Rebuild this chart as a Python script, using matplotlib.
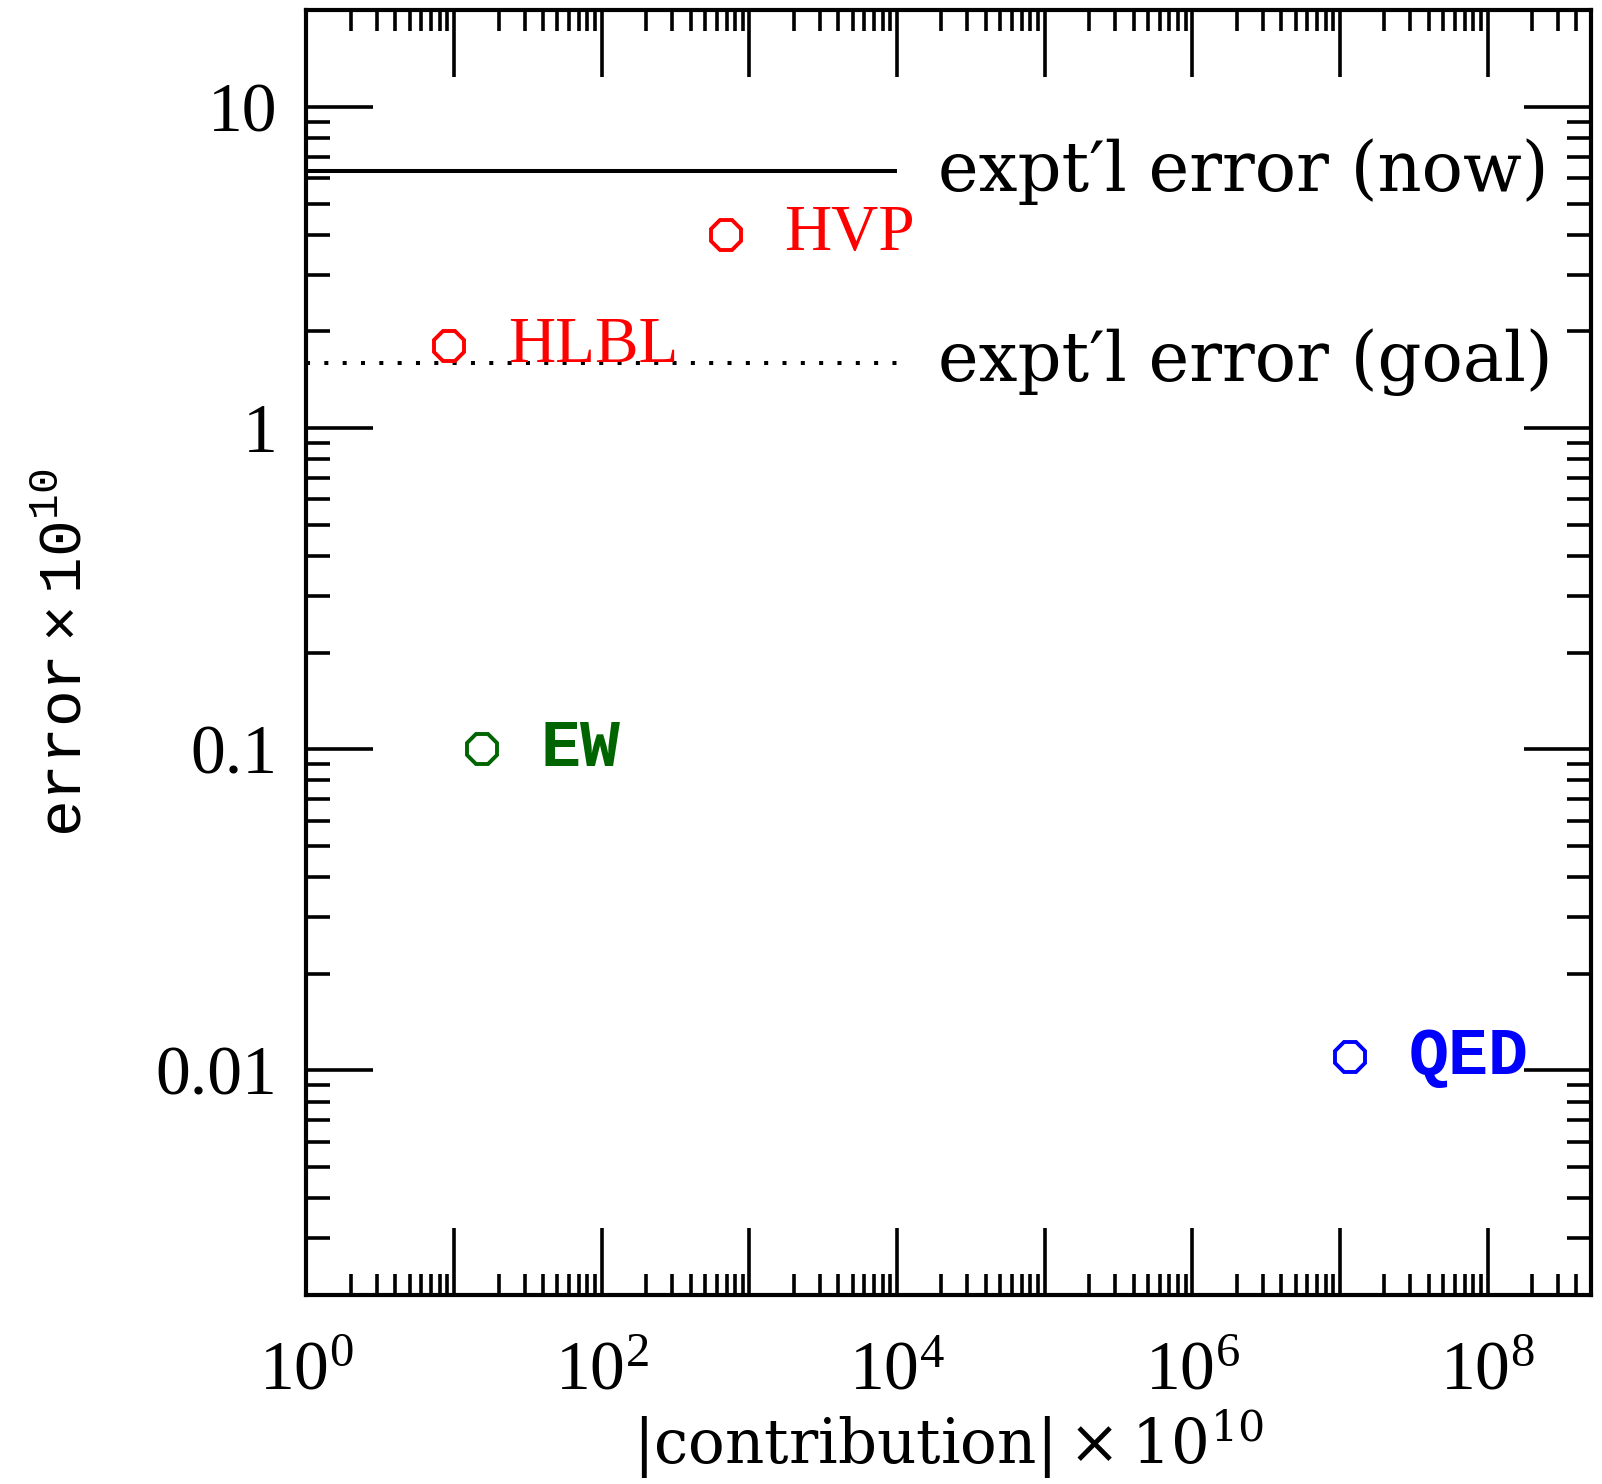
import numpy as np
import matplotlib
matplotlib.use("Agg")
import matplotlib.pyplot as plt
from matplotlib.ticker import LogLocator, FuncFormatter, NullFormatter

plt.rcParams['mathtext.fontset'] = 'custom'
plt.rcParams['mathtext.rm'] = 'DejaVu Serif'
plt.rcParams['mathtext.sf'] = 'Liberation Serif'
plt.rcParams['mathtext.tt'] = 'Liberation Mono'

# data
labels = ['HVP', 'HLBL', 'EW', 'QED']
contribution = [690, 9.3, 15.4, 1.17e7]
error = [4.0, 1.8, 0.1, 0.011]
colors = ['#ff0000', '#ff0000', '#006400', '#0000ff']
label_font = [('Liberation Serif', 'normal', 47), ('Liberation Serif', 'normal', 47),
              ('Liberation Mono', 'bold', 48), ('Liberation Mono', 'bold', 48)]

err_now = 6.3
err_goal = 1.6
line_x = [1, 1e4]
x_lim = [1, 5e8]
y_lim = [0.002, 20]
y_ticks = [0.01, 0.1, 1, 10]
y_ticklabels = ['0.01', '0.1', '1', '10']

fig = plt.figure(figsize=(16.02, 14.84), dpi=100)
ax = fig.add_axes([0.1913, 0.1274, 0.8017, 0.8657])
ax.set_xscale('log')
ax.set_yscale('log')
ax.set_xlim(x_lim)
ax.set_ylim(y_lim)

ax.plot(line_x, [err_now, err_now], color='black', lw=2.9, solid_capstyle='butt')
ax.plot(line_x, [err_goal, err_goal], color='black', lw=2.9, linestyle=(0, (1, 3.55)))

ax.text(1.9e4, err_now, "expt\u2032l error (now)", fontsize=49.5, family='DejaVu Serif', va='center', ha='left')
ax.text(1.9e4, err_goal, "expt\u2032l error (goal)", fontsize=49.5, family='DejaVu Serif', va='center', ha='left')

for lab, x, y, c, (fam, wt, fs) in zip(labels, contribution, error, colors, label_font):
    ax.plot([x], [y], marker='8', ms=23, mfc='none', mec=c, mew=2.8, ls='none')
    ax.annotate(lab, (x, y), xytext=(42, 0), textcoords='offset points', color=c,
                fontsize=fs, family=fam, weight=wt, va='center', ha='left')

# ticks
ax.xaxis.set_major_locator(LogLocator(base=10, numticks=20))
ax.xaxis.set_minor_locator(LogLocator(base=10, subs=np.arange(2, 10), numticks=20))
ax.xaxis.set_major_formatter(FuncFormatter(
    lambda v, p: r'$\mathsf{10^{%d}}$' % round(np.log10(v)) if round(np.log10(v)) % 2 == 0 else ''))
ax.xaxis.set_minor_formatter(NullFormatter())
ax.set_yticks(y_ticks)
ax.set_yticklabels(y_ticklabels)
ax.yaxis.set_minor_locator(LogLocator(base=10, subs=np.arange(2, 10), numticks=20))
ax.yaxis.set_minor_formatter(NullFormatter())

ax.tick_params(which='both', direction='in', top=True, right=True, width=2.6, color='black')
ax.tick_params(which='major', length=48)
ax.tick_params(axis='x', which='minor', length=15)
ax.tick_params(axis='y', which='minor', length=17)
ax.tick_params(axis='x', which='major', pad=30, labelsize=50)
ax.tick_params(axis='y', which='major', pad=21, labelsize=50)
for t in ax.get_yticklabels():
    t.set_family('Liberation Serif')
for s in ax.spines.values():
    s.set_linewidth(3)

ax.set_xlabel(r'$\mathrm{|contribution|\times10^{10}}$', fontsize=44, labelpad=3)
ax.set_ylabel(r'$\mathtt{error\times10^{10}}$', fontsize=44, labelpad=44)

fig.savefig('out.png', dpi=100)
